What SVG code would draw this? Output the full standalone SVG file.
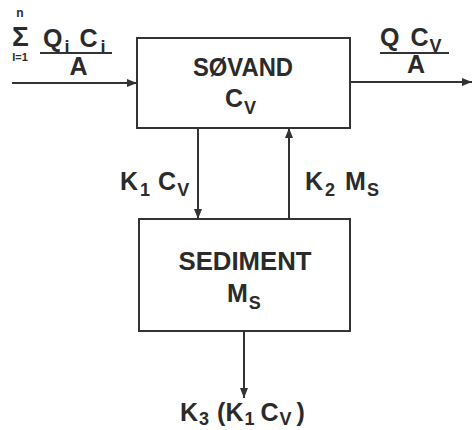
<svg xmlns="http://www.w3.org/2000/svg" width="472" height="430" viewBox="0 0 472 430">
<defs>
<style>
.box{fill:none;stroke:#333;stroke-width:2}
.ln{fill:none;stroke:#333;stroke-width:2}
text{font-family:"Liberation Sans",Arial,sans-serif;font-weight:bold;fill:#2b2b2b;font-size:25px}
.sub{font-size:18px}
</style>
<marker id="ah" viewBox="0 0 10 8" refX="10" refY="4" markerWidth="10" markerHeight="8" markerUnits="userSpaceOnUse" orient="auto">
<path d="M0,0 L10,4 L0,8 Z" fill="#333"/>
</marker>
</defs>
<rect width="472" height="430" fill="#fff"/>
<g id="connectors">
<line class="ln" x1="12" y1="83" x2="137" y2="83" marker-end="url(#ah)"/>
<line class="ln" x1="350" y1="82" x2="472" y2="82" marker-end="url(#ah)"/>
<line class="ln" x1="198" y1="128" x2="198" y2="219" marker-end="url(#ah)"/>
<line class="ln" x1="289" y1="219" x2="289" y2="128" marker-end="url(#ah)"/>
<line class="ln" x1="244" y1="331" x2="244" y2="398" marker-end="url(#ah)"/>
</g>
<g id="soevand">
<rect class="box" x="137" y="38" width="213" height="90"/>
<text x="243" y="76" text-anchor="middle" textLength="100" lengthAdjust="spacingAndGlyphs">SØVAND</text>
<text x="225" y="107">C<tspan class="sub" dy="7" dx="1">V</tspan></text>
</g>
<g id="sediment">
<rect class="box" x="139" y="219" width="211" height="112"/>
<text x="245" y="270" text-anchor="middle" textLength="133" lengthAdjust="spacingAndGlyphs">SEDIMENT</text>
<text x="227" y="302">M<tspan class="sub" dy="7" dx="1">S</tspan></text>
</g>
<g id="input-label">
<text x="20" y="17" text-anchor="middle" style="font-size:12px">n</text>
<text x="20.5" y="46" text-anchor="middle" style="font-size:28px">Σ</text>
<text x="20" y="61" text-anchor="middle" style="font-size:11px">I=1</text>
<text x="43" y="47">Q<tspan class="sub" dy="6" dx="2">i</tspan><tspan dy="-6" dx="10">C</tspan><tspan class="sub" dy="6" dx="3">i</tspan></text>
<line class="ln" x1="40" y1="53" x2="112" y2="53"/>
<text x="78.5" y="75" text-anchor="middle">A</text>
</g>
<g id="output-label">
<text x="380" y="46">Q<tspan dx="11">C</tspan><tspan class="sub" dy="6" dx="1">V</tspan></text>
<line class="ln" x1="380" y1="53" x2="449" y2="53"/>
<text x="416" y="73" text-anchor="middle">A</text>
</g>
<g id="k1-label">
<text x="120" y="190">K<tspan class="sub" dy="6" dx="2">1</tspan><tspan dy="-6" dx="8">C</tspan><tspan class="sub" dy="6" dx="1">V</tspan></text>
</g>
<g id="k2-label">
<text x="305" y="190">K<tspan class="sub" dy="6" dx="2">2</tspan><tspan dy="-6" dx="10">M</tspan><tspan class="sub" dy="6" dx="1">S</tspan></text>
</g>
<g id="k3-label">
<text x="180" y="421">K<tspan class="sub" dy="4" dx="1">3</tspan><tspan dy="-4" dx="8">(K</tspan><tspan class="sub" dy="4" dx="1">1</tspan><tspan dy="-4" dx="6">C</tspan><tspan class="sub" dy="4" dx="1">V</tspan><tspan dy="-4" dx="5">)</tspan></text>
</g>
</svg>
